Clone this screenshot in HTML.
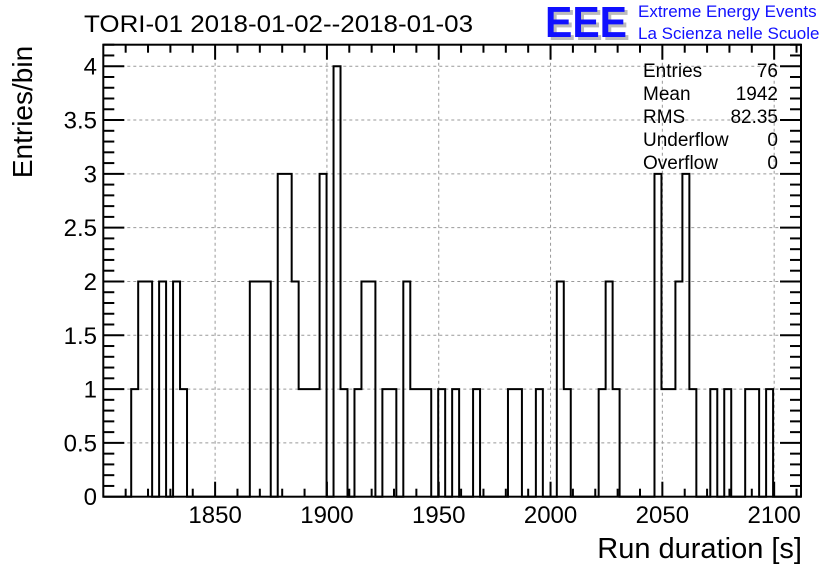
<!DOCTYPE html>
<html><head><meta charset="utf-8"><style>
body{margin:0;background:#fff}
svg{display:block;font-family:"Liberation Sans",Arial,sans-serif}
</style></head><body>
<svg id="c" width="836" height="572" viewBox="0 0 836 572">
<text x="84" y="32" font-size="24" textLength="389" lengthAdjust="spacingAndGlyphs">TORI-01 2018-01-02--2018-01-03</text>
<g>
<text x="548" y="40" font-size="44" font-weight="bold" fill="#bbb" textLength="82" lengthAdjust="spacingAndGlyphs">EEE</text>
<text x="545" y="37" font-size="44" font-weight="bold" fill="#1010ff" textLength="82" lengthAdjust="spacingAndGlyphs">EEE</text>
<text x="638" y="17" font-size="17" fill="#1010ff">Extreme Energy Events</text>
<text x="638" y="39" font-size="17" fill="#1010ff">La Scienza nelle Scuole</text>
</g>
<g id="grid"></g>
<g id="axes"></g>
<path id="hist" fill="none" stroke="#000" stroke-width="2"></path>
<rect x="103.3" y="44.7" width="697.7" height="452" fill="none" stroke="#000" stroke-width="2"></rect>
<g font-size="19">
<text x="643" y="77">Entries</text><text x="778" y="77" text-anchor="end">76</text>
<text x="643" y="100">Mean</text><text x="778" y="100" text-anchor="end">1942</text>
<text x="643" y="123">RMS</text><text x="778" y="123" text-anchor="end">82.35</text>
<text x="643" y="146">Underflow</text><text x="778" y="146" text-anchor="end">0</text>
<text x="643" y="169">Overflow</text><text x="778" y="169" text-anchor="end">0</text>
</g>
<text x="802" y="558" font-size="29" text-anchor="end">Run duration [s]</text>
<text transform="translate(32,112) rotate(-90)" font-size="28" text-anchor="middle">Entries/bin</text>
</svg>
<script>
const xMin = 1800, xMax = 2112, nBins = 100;
const filledBins = [4,5,6,8,10,11,21,22,23,25,26,27,28,29,30,31,33,34,36,37,38,40,41,43,44,45,46,48,50,53,58,59,62,65,66,71,72,73,79,80,81,82,83,84,87,89,92,93,95];
const filledCounts = [1,2,2,2,2,1,2,2,2,3,3,2,1,1,1,3,4,1,1,2,2,1,1,2,1,1,1,1,1,1,1,1,1,2,1,1,2,1,3,1,1,2,3,1,1,1,1,1,1];
const xTickLabels = [1850,1900,1950,2000,2050,2100];
const yTickLabels = [0,0.5,1,1.5,2,2.5,3,3.5,4];
const yMax = 4.2;
const L=103.3,R=801,T=44.7,B=496.7;
const sx=v=>L+(v-xMin)/(xMax-xMin)*(R-L);
const sy=v=>B-v/yMax*(B-T);
const NS="http://www.w3.org/2000/svg";
function mk(tag,attrs,parent){const e=document.createElementNS(NS,tag);for(const k in attrs)e.setAttribute(k,attrs[k]);parent.appendChild(e);return e;}
const grid=document.getElementById('grid'),axes=document.getElementById('axes');
const bw=(xMax-xMin)/nBins;
const counts=new Array(nBins).fill(0);
filledBins.forEach((b,i)=>counts[b]=filledCounts[i]);
let d=`M${sx(xMin)},${sy(0)}`;
for(let i=0;i<nBins;i++){const x0=sx(xMin+i*bw),x1=sx(xMin+(i+1)*bw),y=sy(counts[i]);d+=` L${x0},${y} L${x1},${y}`;}
d+=` L${sx(xMax)},${sy(0)}`;
document.getElementById('hist').setAttribute('d',d);
xTickLabels.forEach(v=>{
 const x=sx(v);
 const g=mk('line',{x1:x,x2:x,y1:T,y2:B,stroke:'#999','stroke-dasharray':'3,3','stroke-width':1},grid);
 
 
 const t=mk('text',{x:x,y:523,'font-size':24,'text-anchor':'middle'},axes);
 t.textContent=v;
 
 
});
yTickLabels.forEach(v=>{
 const y=sy(v);
 if(v>0){const g=mk('line',{x1:L,x2:R,y1:y,y2:y,stroke:'#999','stroke-dasharray':'3,3','stroke-width':1},grid);
 
 }
 const t=mk('text',{x:97,y:y+8.5,'font-size':24,'text-anchor':'end'},axes);
 t.textContent=v;
 
 
});
for(let v=1810;v<xMax;v+=10){const x=sx(v),len=v%50===0?15:8;
 mk('line',{x1:x,x2:x,y1:B,y2:B-len,stroke:'#000','stroke-width':2},axes);
 mk('line',{x1:x,x2:x,y1:T,y2:T+len,stroke:'#000','stroke-width':2},axes);}
for(let k=1;k<=42;k++){const y=sy(k/10),len=k%5===0?21:11;
 mk('line',{x1:L,x2:L+len,y1:y,y2:y,stroke:'#000','stroke-width':2},axes);
 mk('line',{x1:R,x2:R-len,y1:y,y2:y,stroke:'#000','stroke-width':2},axes);}
</script>
</body></html>
